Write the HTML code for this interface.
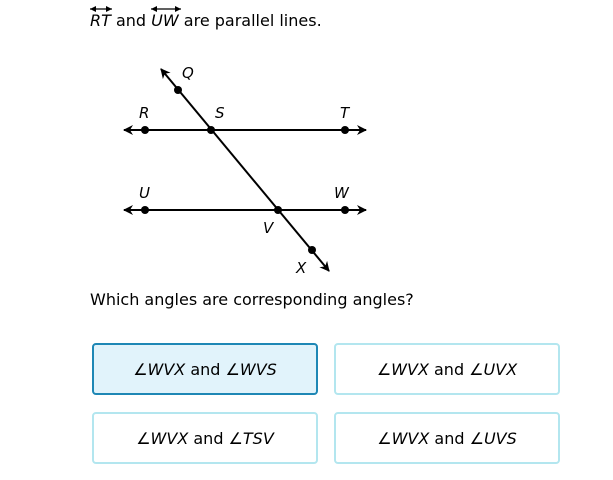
<!DOCTYPE html>
<html><head><style>
body{margin:0;width:613px;height:480px;background:#fff;position:relative;font-family:"DejaVu Sans","Liberation Sans",sans-serif;color:#000;overflow:hidden}
.t{position:absolute;font-size:16px;white-space:nowrap}
.b{position:absolute;box-sizing:border-box;border:2px solid #b3e6ef;border-radius:4px;display:flex;align-items:center;justify-content:center;font-size:16px;background:#fff}
.sel{background:#e1f3fb;border:2px solid #1e87b5}
i{font-style:italic}
</style></head><body>
<svg width="613" height="480" style="position:absolute;left:0;top:0" font-family="DejaVu Sans, sans-serif" font-style="italic" font-size="15">
<defs><marker id="a" markerWidth="12" markerHeight="12" refX="9" refY="5" orient="auto-start-reverse" markerUnits="userSpaceOnUse"><path d="M0,0 L10,5 L0,10 L3,5z" fill="#000"/></marker>
<marker id="s" markerWidth="7" markerHeight="7" refX="6" refY="3" orient="auto-start-reverse" markerUnits="userSpaceOnUse"><path d="M0,0 L6,3 L0,6z" fill="#000"/></marker></defs>
<g stroke="#000" stroke-width="1.2"><line x1="90" y1="9" x2="112" y2="9" marker-start="url(#s)" marker-end="url(#s)"/><line x1="151" y1="9" x2="181" y2="9" marker-start="url(#s)" marker-end="url(#s)"/></g>
<g stroke="#000" stroke-width="2" fill="none">
<line x1="124" y1="130" x2="366" y2="130" marker-start="url(#a)" marker-end="url(#a)"/>
<line x1="124" y1="210" x2="366" y2="210" marker-start="url(#a)" marker-end="url(#a)"/>
<line x1="161" y1="69" x2="329" y2="271" marker-start="url(#a)" marker-end="url(#a)"/>
</g>
<g fill="#000">
<circle cx="178" cy="90" r="4"/><circle cx="211" cy="130" r="4"/><circle cx="145" cy="130" r="4"/><circle cx="345" cy="130" r="4"/>
<circle cx="145" cy="210" r="4"/><circle cx="278" cy="210" r="4"/><circle cx="345" cy="210" r="4"/><circle cx="312" cy="250" r="4"/>
<text x="182" y="78">Q</text><text x="139" y="118">R</text><text x="215" y="118">S</text><text x="340" y="118">T</text>
<text x="139" y="198">U</text><text x="334" y="198">W</text><text x="263" y="233">V</text><text x="296" y="273">X</text>
</g>
</svg>
<div class="t" style="left:90px;top:11px"><i>RT</i> and <i>UW</i> are parallel lines.</div>
<div class="t" style="left:90px;top:290px">Which angles are corresponding angles?</div>
<div class="b sel" style="left:92px;top:343px;width:226px;height:52px">∠<i>WVX</i>&nbsp;and ∠<i>WVS</i></div>
<div class="b" style="left:334px;top:343px;width:226px;height:52px">∠<i>WVX</i>&nbsp;and ∠<i>UVX</i></div>
<div class="b" style="left:92px;top:412px;width:226px;height:52px">∠<i>WVX</i>&nbsp;and ∠<i>TSV</i></div>
<div class="b" style="left:334px;top:412px;width:226px;height:52px">∠<i>WVX</i>&nbsp;and ∠<i>UVS</i></div>
</body></html>
